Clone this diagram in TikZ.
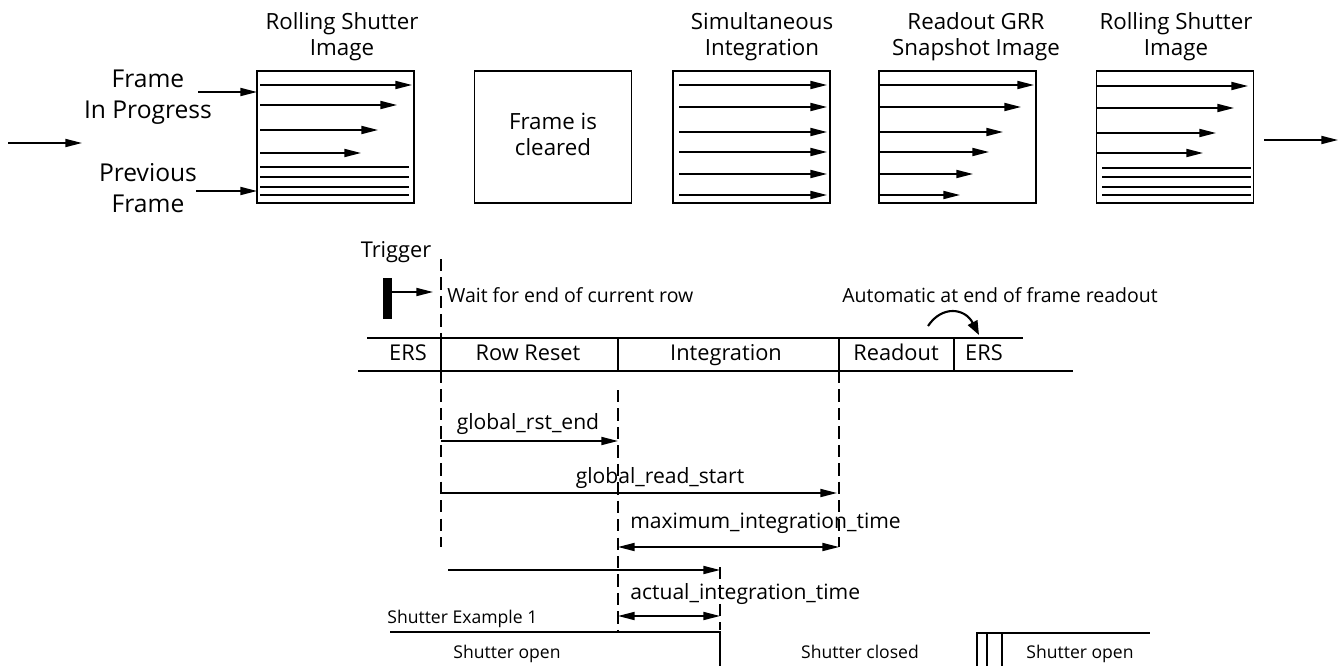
\documentclass[tikz,border=0pt]{standalone}
\usepackage{fontspec}
\setmainfont{Open Sans}
\usetikzlibrary{arrows.meta}

\tikzset{
	frm/.style={draw=black,line width=1.1pt,minimum width=3.14cm,minimum height=2.64cm,inner sep=0pt,outer sep=0pt},
	row/.style={line width=0.9pt,-{Triangle[length=9.5pt,width=4.6pt]}},
	dim/.style={line width=0.9pt,{Triangle[length=9.5pt,width=4.6pt]}-{Triangle[length=9.5pt,width=4.6pt]}},
	tline/.style={line width=1.2pt,dash pattern=on 7pt off 3.5pt},
	solid line/.style={line width=1.2pt},
	ttl/.style={align=center,font=\fontsize{12.7}{14.8}\selectfont},
	side/.style={align=center,font=\fontsize{14}{17.6}\selectfont},
	phase/.style={anchor=base,inner sep=0pt,font=\fontsize{12.4}{14}\selectfont},
	note/.style={anchor=base west,inner sep=0pt,font=\fontsize{11.1}{13}\selectfont},
	tlabel/.style={anchor=base,inner sep=0pt,font=\fontsize{12}{14}\selectfont},
	shut/.style={anchor=base,inner sep=0pt,font=\fontsize{10}{12}\selectfont}
}

\begin{document}
\begin{tikzpicture}[x=0.02cm,y=-0.02cm]
	\useasboundingbox (0,0) rectangle (1339,666);
	% frames
	\node[frm] (rs1) at (335.5,137) {};
	\node[frm] (clr) at (553,137) {};
	\node[frm] (sim) at (751.5,137) {};
	\node[frm] (grr) at (957.5,137) {};
	\node[frm] (rs2) at (1175,137) {};
	\node[ttl] (rs1t) at (342,37) {Rolling Shutter\\Image};
	\node[ttl] (simt) at (762,37) {Simultaneous\\Integration};
	\node[ttl] (grrt) at (976,37) {Readout GRR\\Snapshot Image};
	\node[ttl] (rs2t) at (1176,37) {Rolling Shutter\\Image};
	\node[ttl] (clrt) at (553,134) {Frame is\\cleared};
	\node[side] (fip) at (148,97.5) {Frame\\In Progress};
	\node[side] (pf) at (148,188) {Previous\\Frame};
	\coordinate (fipa) at (198,92);
	\coordinate (pfa) at (196,191);
	\draw[row] (fipa) -- (fipa -| rs1.west);
	\draw[row] (pfa) -- (pfa -| rs1.west);
	\coordinate (in0) at (8,143);
	\coordinate (in1) at (82,143);
	\draw[row] (in0) -- (in1);
	\coordinate (out0) at (1264,140);
	\coordinate (out1) at (1338,140);
	\draw[row] (out0) -- (out1);
	% rows inside the frames
	\foreach \y/\e in {85/412,105/397,130/378,153/361}
	\draw[row] (260,\y) -- (\e,\y);
	\foreach \y in {167,177,187,195}
	\draw[line width=0.9pt] (260,\y) -- (409,\y);
	\foreach \y in {85,107,132,152,174,195}
	\draw[row] (679,\y) -- (827,\y);
	\foreach \y/\e in {85/1034,107/1021,132/1003,152/989,174/973,195/960}
	\draw[row] (880,\y) -- (\e,\y);
	\foreach \y/\e in {86/1248,108/1234,133/1216,153/1203}
	\draw[row] (1097,\y) -- (\e,\y);
	\foreach \y in {168,177,187,195}
	\draw[line width=0.9pt] (1102,\y) -- (1251,\y);
	% trigger
	\node[phase] (trig) at (396,257) {Trigger};
	\fill (383,278) rectangle (392,319);
	\coordinate (trg) at (392,292);
	\coordinate (wt) at (433,292);
	\draw[row] (trg) -- (wt);
	\node[note] (wait) at (447,302) {Wait for end of current row};
	\node[note] (auto) at (842,302) {Automatic at end of frame readout};
	% phases
	\draw[solid line] (367,338) -- (1023,338);
	\draw[solid line] (358,371) -- (1073,371);
	\foreach \x in {441,618,839,954}
	\draw[solid line] (\x,338) -- (\x,371);
	\node[phase] (ers1) at (408,360) {ERS};
	\node[phase] (rr) at (528,360) {Row Reset};
	\node[phase] (int) at (726,360) {Integration};
	\node[phase] (ro) at (896,360) {Readout};
	\node[phase] (ers2) at (984,360) {ERS};
	\coordinate (au0) at (928,326);
	\coordinate (au1) at (979,335);
	\draw[line width=1.2pt,-{Triangle[length=8pt,width=6pt]}] (au0) .. controls (942,305) and (965,308) .. (au1);
	% markers
	\draw[tline] (441,259) -- (441,338);
	\draw[tline] (441,371) -- (441,547);
	\draw[tline] (618,390) -- (618,630);
	\draw[tline] (839,371) -- (839,547);
	\draw[tline] (720,567) -- (720,630);
	% timings
	\node[tlabel] (gre) at (528,429) {global\_rst\_end};
	\draw[row] (441,441) -- (618,441);
	\node[tlabel] (grs) at (660,483) {global\_read\_start};
	\draw[row] (441,493) -- (837,493);
	\node[tlabel,anchor=base west] (mit) at (630,528) {maximum\_integration\_time};
	\draw[dim] (618,547) -- (839,547);
	\draw[row] (448,570) -- (720,570);
	\node[tlabel,anchor=base west] (ait) at (630,599) {actual\_integration\_time};
	\draw[dim] (618,616) -- (720,616);
	% shutter
	\node[shut,anchor=base west] (se1) at (387,623) {Shutter Example 1};
	\draw[solid line] (390,632) -- (720,632) -- (720,666);
	\node[shut] (so1) at (507,658) {Shutter open};
	\node[shut] (sc) at (860,658) {Shutter closed};
	\node[shut] (so2) at (1080,658) {Shutter open};
	\draw[solid line] (977,666) -- (977,633) -- (1150,633);
	\draw[solid line] (987,633) -- (987,666);
	\draw[solid line] (1002,633) -- (1002,666);
\end{tikzpicture}
\end{document}
